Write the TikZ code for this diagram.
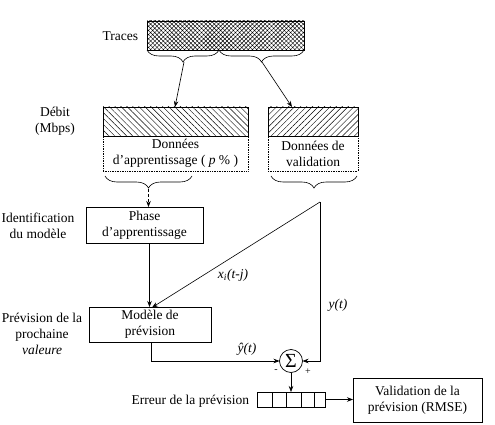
\documentclass[tikz,border=0pt]{standalone}
\usepackage{fontspec}
\setmainfont{Liberation Serif}
\usetikzlibrary{patterns.meta,decorations.pathreplacing,arrows.meta}
\begin{document}
\begin{tikzpicture}[x=1pt,y=-1pt,
  font=\fontsize{13.5}{16}\selectfont,
  every node/.style={inner sep=0pt, outer sep=0pt},
  boxed/.style={draw, line width=0.7pt, anchor=north west, align=center},
  dotbox/.style={draw, densely dotted, line width=0.7pt, anchor=north west, align=center},
  lbl/.style={align=center},
  conn/.style={line width=0.6pt},
  arr/.style={line width=0.6pt, -{Stealth[length=6pt,width=4.5pt]}},
  brc/.style={line width=0.6pt, decorate, decoration={brace, amplitude=12pt}}
]
\useasboundingbox (0,0) rectangle (495,425);

% Traces
\node[boxed, minimum width=157pt, minimum height=29pt, pattern={Hatch[angle=45,distance=3pt,line width=0.45pt]}] (traces) at (147,21) {};
\node[lbl, anchor=east] (tracesl) at (138,36) {Traces};

% braces under traces
\draw[brc] (219,50) -- (147,50);
\draw[brc] (304,50) -- (219,50);
\coordinate (bt1) at (184,62);
\coordinate (bt2) at (262,62);

% hatched boxes
\node[boxed, minimum width=145pt, minimum height=29pt, pattern={Lines[angle=-45,distance=4.2pt,line width=0.45pt]}] (hl) at (103,107) {};
\node[boxed, minimum width=90pt, minimum height=29pt, pattern={Lines[angle=45,distance=4.2pt,line width=0.45pt]}] (hr) at (268,107) {};
\draw[arr] (bt1) -- (hl.north -| 175,0);
\draw[arr] (bt2) -- (hr.north -| 292,0);

\node[lbl] (debit) at (55,121) {Débit\\(Mbps)};

% dotted boxes
\node[dotbox, minimum width=145pt, minimum height=35pt] (dl) at (103,136) {};
\node[lbl] (dlt) at (dl.center) {Données\\d’apprentissage ( \textit{p} \% )};
\node[dotbox, minimum width=90pt, minimum height=35pt] (dr) at (268,136) {};
\node[lbl] (drt) at (dr.center) {Données de\\validation};

% braces under dotted boxes
\draw[brc] (192,176) -- (105,176);
\draw[brc] (357,176) -- (271,176);
\coordinate (bt3) at (148.5,189);
\coordinate (bt4) at (314,189);

% Phase box
\node[boxed, minimum width=117pt, minimum height=36pt] (phase) at (86,207) {};
\node[lbl] (phaset) at (phase.center) {Phase\\d’apprentissage};
\draw[arr, dashed, dash pattern=on 3pt off 2pt] (bt3) -- (phase.north -| bt3);
\node[lbl] (ident) at (38,226) {Identification\\du modèle};

% Modele box
\node[boxed, minimum width=122pt, minimum height=35pt] (model) at (89,307) {};
\node[lbl] (modelt) at (model.center) {Modèle de\\prévision};
\coordinate (pb) at (149.5,243);
\draw[arr] (pb) -- (model.north -| pb);
\node[lbl] (prev) at (42,334) {Prévision de la\\prochaine\\\textit{valeure}};

% apex and diagonal
\coordinate (apex) at (320,202);
\coordinate (mtop) at (152,307.5);
\draw[arr] (apex) -- (mtop);
\node[lbl] (xij) at (233,275) {\textit{x\textsubscript{i}(t-j)}};

% sigma
\node[draw, circle, line width=0.7pt, minimum size=23pt] (sig) at (291,361) {\fontsize{20}{20}\selectfont Σ};
\coordinate (mb) at (151,342);
\draw[arr] (mb) |- (sig.west);
\draw[arr] (apex) |- (sig.east);
\node[lbl] (yt) at (338,305) {\textit{y(t)}};
\node[lbl] (yhat) at (247,349) {\textit{ŷ(t)}};
\node[lbl, font=\fontsize{10}{12}\selectfont] (minus) at (276,371) {-};
\node[lbl, font=\fontsize{10}{12}\selectfont] (plus) at (308,372) {+};

% register
\node[boxed, minimum width=68pt, minimum height=15pt] (reg) at (257,392) {};
\foreach \xx in {272,286,301,314} \draw[line width=0.7pt] (\xx,392) -- (\xx,407);
\draw[arr] (sig.south) -- (reg.north -| sig.south);
\node[lbl, anchor=east] (err) at (249,401) {Erreur de la prévision};

% validation box
\node[boxed, minimum width=129pt, minimum height=44pt] (valid) at (353,378) {};
\node[lbl] (validt) at (valid.center) {Validation de la\\prévision (RMSE)};
\draw[arr] (reg.east) -- (valid.west |- reg.east);
\end{tikzpicture}
\end{document}
